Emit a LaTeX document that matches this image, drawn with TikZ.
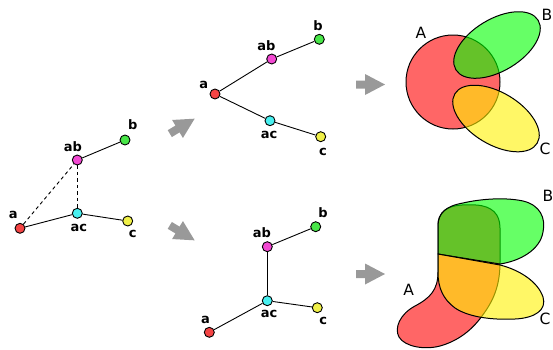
\documentclass[tikz,border=0pt]{standalone}
\usepackage{fontspec}
\setmainfont{DejaVu Sans}
\begin{document}
\begin{tikzpicture}[x=1pt,y=-1pt,
  vert/.style={circle,draw=black,line width=0.9pt,minimum size=10pt,inner sep=0pt},
  lbl/.style={font=\bfseries\fontsize{13}{15}\selectfont,anchor=base,inner sep=0pt},
  set/.style={font=\fontsize{15.5}{18}\selectfont,anchor=base,inner sep=0pt},
  edge/.style={line width=0.9pt},
  dedge/.style={line width=0.9pt,dash pattern=on 3.5pt off 3pt},
  blk/.style={fill=black!40,draw=none},
  venn/.style={draw=black,line width=1pt,fill opacity=0.6}
]
\useasboundingbox (0,0) rectangle (553,349);
\definecolor{cA}{RGB}{244,68,68}
\definecolor{cAB}{RGB}{242,72,210}
\definecolor{cB}{RGB}{72,230,72}
\definecolor{cAC}{RGB}{72,240,240}
\definecolor{cC}{RGB}{240,240,72}
\def\blockarrow{(0,-4) -- (9,-4) -- (9,-10.5) -- (29,0) -- (9,10.5) -- (9,4) -- (0,4) -- cycle}

% ---------- left graph ----------
\node[vert,fill=cA]  (La)  at (20,228.3) {};
\node[vert,fill=cAB] (Lab) at (77.3,160) {};
\node[vert,fill=cB]  (Lb)  at (125,140) {};
\node[vert,fill=cAC] (Lac) at (77.3,213.3) {};
\node[vert,fill=cC]  (Lc)  at (127.7,221) {};
\draw[edge] (La) -- (Lac);
\draw[edge] (Lac) -- (Lc);
\draw[edge] (Lab) -- (Lb);
\draw[dedge] (La) -- (Lab);
\draw[dedge] (Lab) -- (Lac);
\node[lbl] (tLa)  at (13.3,218.5) {a};
\node[lbl] (tLab) at (73,151.7) {ab};
\node[lbl] (tLb)  at (132.7,129.5) {b};
\node[lbl] (tLac) at (78.8,231.5) {ac};
\node[lbl] (tLc)  at (132.7,237) {c};

% ---------- top middle graph ----------
\node[vert,fill=cA]  (Ta)  at (215,94) {};
\node[vert,fill=cAB] (Tab) at (271.7,59) {};
\node[vert,fill=cB]  (Tb)  at (319.3,39.3) {};
\node[vert,fill=cAC] (Tac) at (270,120.7) {};
\node[vert,fill=cC]  (Tc)  at (320.7,136.7) {};
\draw[edge] (Ta) -- (Tab);
\draw[edge] (Tab) -- (Tb);
\draw[edge] (Ta) -- (Tac);
\draw[edge] (Tac) -- (Tc);
\node[lbl] (tTa)  at (203.7,88) {a};
\node[lbl] (tTab) at (266.3,50.5) {ab};
\node[lbl] (tTb)  at (318,30) {b};
\node[lbl] (tTac) at (269,138) {ac};
\node[lbl] (tTc)  at (323,155) {c};

% ---------- bottom middle graph ----------
\node[vert,fill=cA]  (Ba)  at (209.3,332.3) {};
\node[vert,fill=cAB] (Bab) at (267.3,246.7) {};
\node[vert,fill=cB]  (Bb)  at (315.7,226.7) {};
\node[vert,fill=cAC] (Bac) at (267.3,300.7) {};
\node[vert,fill=cC]  (Bc)  at (317.3,307.7) {};
\draw[edge] (Ba) -- (Bac);
\draw[edge] (Bac) -- (Bc);
\draw[edge] (Bac) -- (Bab);
\draw[edge] (Bab) -- (Bb);
\node[lbl] (tBa)  at (205.5,323) {a};
\node[lbl] (tBab) at (262,237) {ab};
\node[lbl] (tBb)  at (323,217.5) {b};
\node[lbl] (tBac) at (269,317.5) {ac};
\node[lbl] (tBc)  at (323.3,324) {c};

% ---------- block arrows ----------
\begin{scope}[shift={(169.8,133.6)},rotate=31]
  \fill[blk] \blockarrow;
\end{scope}
\begin{scope}[shift={(169.8,225.4)},rotate=-31]
  \fill[blk] \blockarrow;
\end{scope}
\begin{scope}[shift={(356,84.5)}]
  \fill[blk] \blockarrow;
\end{scope}
\begin{scope}[shift={(356,274)}]
  \fill[blk] \blockarrow;
\end{scope}

% ---------- top Venn ----------
\filldraw[venn,fill=red] (453,82) circle[radius=47];
\filldraw[venn,fill=green,rotate around={31:(497,45)}] (497,45) ellipse[x radius=48,y radius=26];
\filldraw[venn,fill=yellow,rotate around={-31:(496,118.5)}] (496,118.5) ellipse[x radius=48,y radius=26];
\node[set] (VA) at (421,38.3) {A};
\node[set] (VB) at (547,20.7) {B};
\node[set] (VC) at (545,154) {C};

% ---------- bottom Venn ----------
\filldraw[venn,fill=red]
  (438,223) -- (438,272)
  .. controls (438,290) and (430,298) .. (415,306)
  .. controls (400,314) and (394,328) .. (399,337)
  .. controls (405,347) and (425,350) .. (440,346)
  .. controls (458,341) and (472,330) .. (482,316)
  .. controls (494,300) and (500,285) .. (500,262)
  -- (500,228)
  .. controls (500,214) and (492,206) .. (476,205)
  .. controls (456,204) and (440,206) .. (438,223)
  -- cycle;
\filldraw[venn,fill=green]
  (438,254) -- (438,226)
  .. controls (438,213) and (446,206) .. (463,203)
  .. controls (480,199) and (505,197) .. (523,201)
  .. controls (540,205) and (546,218) .. (543,232)
  .. controls (540,250) and (520,261) .. (500,264)
  -- cycle;
\filldraw[venn,fill=yellow]
  (438,254) -- (500,265)
  .. controls (520,270) and (538,282) .. (543,297)
  .. controls (547,310) and (535,318) .. (515,319)
  .. controls (495,320) and (470,318) .. (455,308)
  .. controls (443,299) and (438,288) .. (438,272)
  -- cycle;
\node[set] (WA) at (408.7,295) {A};
\node[set] (WB) at (548,201.7) {B};
\node[set] (WC) at (545,324) {C};
\end{tikzpicture}
\end{document}
